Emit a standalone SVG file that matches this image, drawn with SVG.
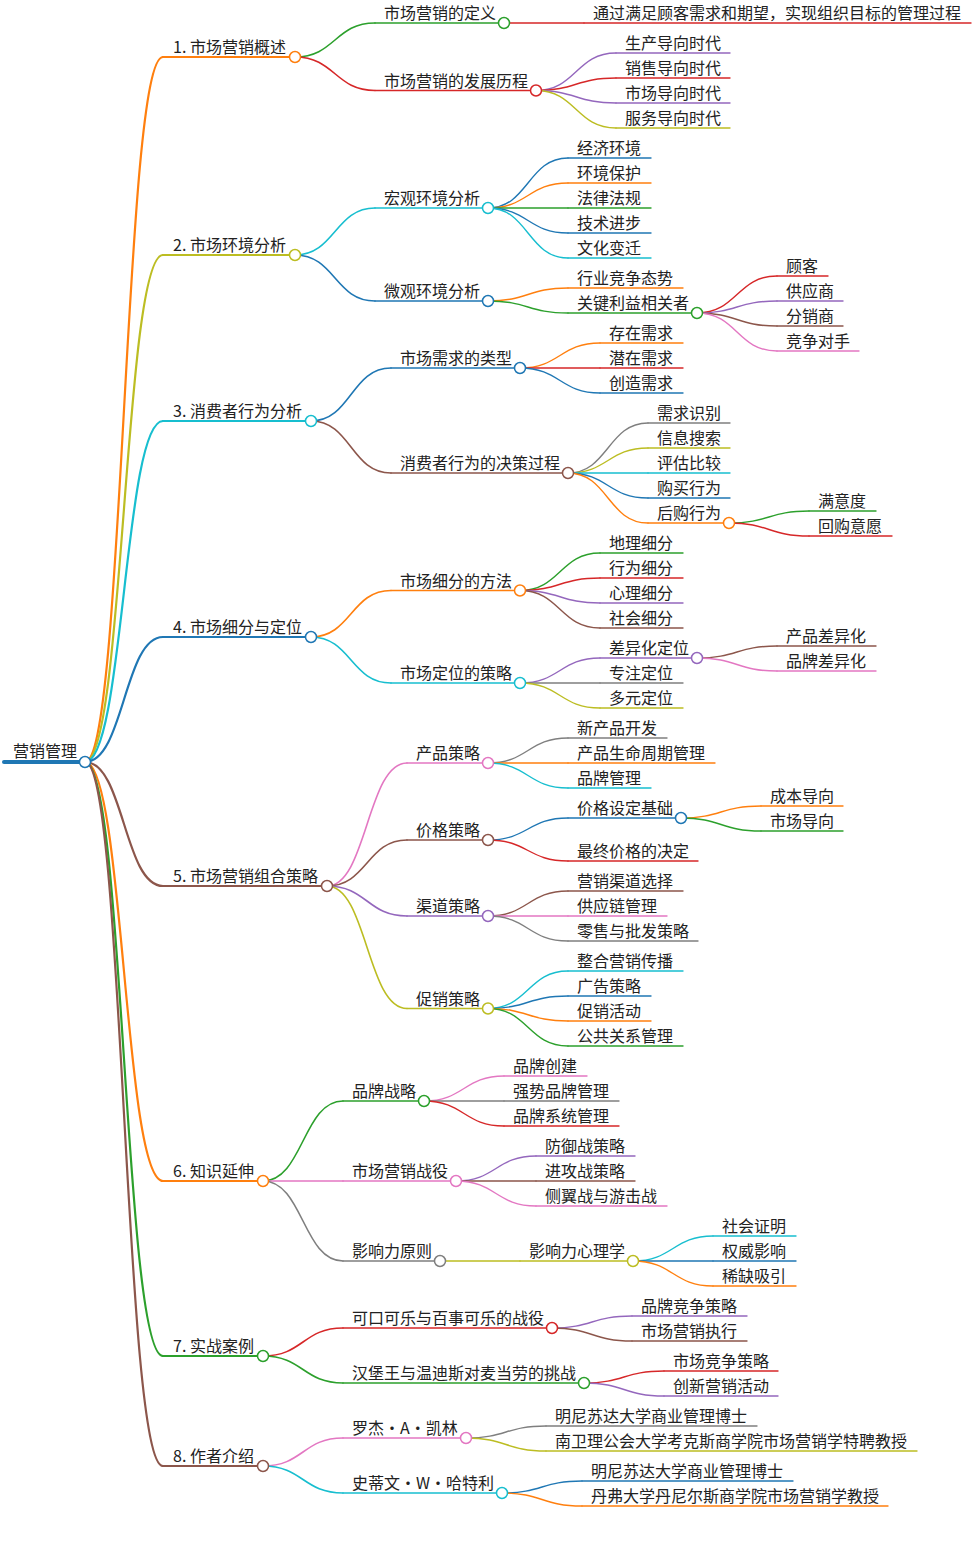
<svg xmlns="http://www.w3.org/2000/svg" width="976" height="1551" viewBox="0 0 976 1551">
<style>
.t{font-family:"Noto Sans CJK SC","Noto Sans",sans-serif;font-size:16px;fill:#222}
.l{fill:none;stroke-linecap:round}
.dot{fill:#fff;stroke-width:1.5}
.w0{stroke-width:4}.w1{stroke-width:2.2}.w2{stroke-width:1.6}.w3{stroke-width:1.4}
.b{stroke:#1f77b4}.o{stroke:#ff7f0e}.g{stroke:#2ca02c}.r{stroke:#d62728}.p{stroke:#9467bd}
.n{stroke:#8c564b}.k{stroke:#e377c2}.y{stroke:#7f7f7f}.v{stroke:#bcbd22}.c{stroke:#17becf}
</style>
<rect width="976" height="1551" fill="#fff"/>
<g id="connectors">
<path class="l o w1" d="M85 762C124 762 124 57 163 57"/>
<path class="l v w1" d="M85 762C124 762 124 255 163 255"/>
<path class="l c w1" d="M85 762C124 762 124 421 163 421"/>
<path class="l b w1" d="M85 762C124 762 124 637 163 637"/>
<path class="l n w1" d="M85 762C124 762 124 886 163 886"/>
<path class="l o w1" d="M85 762C124 762 124 1181 163 1181"/>
<path class="l g w1" d="M85 762C124 762 124 1356 163 1356"/>
<path class="l n w1" d="M85 762C124 762 124 1466 163 1466"/>
<path class="l g w2" d="M295 57C335 57 335 23 375 23"/>
<path class="l r w2" d="M295 57C335 57 335 90.5 375 90.5"/>
<path class="l r w3" d="M504 23H584"/>
<path class="l p w3" d="M536 90.5C576 90.5 576 53 616 53"/>
<path class="l r w3" d="M536 90.5C576 90.5 576 78 616 78"/>
<path class="l p w3" d="M536 90.5C576 90.5 576 103 616 103"/>
<path class="l v w3" d="M536 90.5C576 90.5 576 128 616 128"/>
<path class="l c w2" d="M295 255C335 255 335 208 375 208"/>
<path class="l b w2" d="M295 255C335 255 335 301 375 301"/>
<path class="l b w3" d="M488 208C528 208 528 158 568 158"/>
<path class="l o w3" d="M488 208C528 208 528 183 568 183"/>
<path class="l g w3" d="M488 208H568"/>
<path class="l b w3" d="M488 208C528 208 528 233 568 233"/>
<path class="l c w3" d="M488 208C528 208 528 258 568 258"/>
<path class="l o w3" d="M488 301C528 301 528 288 568 288"/>
<path class="l g w3" d="M488 301C528 301 528 313 568 313"/>
<path class="l r w3" d="M697 313C737 313 737 276 777 276"/>
<path class="l p w3" d="M697 313C737 313 737 301 777 301"/>
<path class="l n w3" d="M697 313C737 313 737 326 777 326"/>
<path class="l k w3" d="M697 313C737 313 737 351 777 351"/>
<path class="l b w2" d="M311 421C351 421 351 368 391 368"/>
<path class="l n w2" d="M311 421C351 421 351 473 391 473"/>
<path class="l o w3" d="M520 368C560 368 560 343 600 343"/>
<path class="l r w3" d="M520 368H600"/>
<path class="l b w3" d="M520 368C560 368 560 393 600 393"/>
<path class="l y w3" d="M568 473C608 473 608 423 648 423"/>
<path class="l v w3" d="M568 473C608 473 608 448 648 448"/>
<path class="l c w3" d="M568 473H648"/>
<path class="l b w3" d="M568 473C608 473 608 498 648 498"/>
<path class="l o w3" d="M568 473C608 473 608 523 648 523"/>
<path class="l g w3" d="M729 523C769 523 769 511 809 511"/>
<path class="l r w3" d="M729 523C769 523 769 536 809 536"/>
<path class="l o w2" d="M311 637C351 637 351 590.5 391 590.5"/>
<path class="l c w2" d="M311 637C351 637 351 683 391 683"/>
<path class="l g w3" d="M520 590.5C560 590.5 560 553 600 553"/>
<path class="l r w3" d="M520 590.5C560 590.5 560 578 600 578"/>
<path class="l p w3" d="M520 590.5C560 590.5 560 603 600 603"/>
<path class="l n w3" d="M520 590.5C560 590.5 560 628 600 628"/>
<path class="l p w3" d="M520 683C560 683 560 658 600 658"/>
<path class="l y w3" d="M520 683H600"/>
<path class="l v w3" d="M520 683C560 683 560 708 600 708"/>
<path class="l n w3" d="M697 658C737 658 737 646 777 646"/>
<path class="l k w3" d="M697 658C737 658 737 671 777 671"/>
<path class="l k w2" d="M327 886C367 886 367 763 407 763"/>
<path class="l n w2" d="M327 886C367 886 367 840 407 840"/>
<path class="l p w2" d="M327 886C367 886 367 916 407 916"/>
<path class="l v w2" d="M327 886C367 886 367 1008.5 407 1008.5"/>
<path class="l y w3" d="M488 763C528 763 528 738 568 738"/>
<path class="l o w3" d="M488 763H568"/>
<path class="l c w3" d="M488 763C528 763 528 788 568 788"/>
<path class="l b w3" d="M488 840C528 840 528 818 568 818"/>
<path class="l r w3" d="M488 840C528 840 528 861 568 861"/>
<path class="l o w3" d="M681 818C721 818 721 806 761 806"/>
<path class="l g w3" d="M681 818C721 818 721 831 761 831"/>
<path class="l n w3" d="M488 916C528 916 528 891 568 891"/>
<path class="l k w3" d="M488 916H568"/>
<path class="l y w3" d="M488 916C528 916 528 941 568 941"/>
<path class="l c w3" d="M488 1008.5C528 1008.5 528 971 568 971"/>
<path class="l b w3" d="M488 1008.5C528 1008.5 528 996 568 996"/>
<path class="l o w3" d="M488 1008.5C528 1008.5 528 1021 568 1021"/>
<path class="l g w3" d="M488 1008.5C528 1008.5 528 1046 568 1046"/>
<path class="l g w2" d="M263 1181C303 1181 303 1101 343 1101"/>
<path class="l k w2" d="M263 1181H343"/>
<path class="l y w2" d="M263 1181C303 1181 303 1261 343 1261"/>
<path class="l k w3" d="M424 1101C464 1101 464 1076 504 1076"/>
<path class="l y w3" d="M424 1101H504"/>
<path class="l r w3" d="M424 1101C464 1101 464 1126 504 1126"/>
<path class="l p w3" d="M456 1181C496 1181 496 1156 536 1156"/>
<path class="l n w3" d="M456 1181H536"/>
<path class="l k w3" d="M456 1181C496 1181 496 1206 536 1206"/>
<path class="l v w3" d="M440 1261H520"/>
<path class="l c w3" d="M633 1261C673 1261 673 1236 713 1236"/>
<path class="l b w3" d="M633 1261H713"/>
<path class="l o w3" d="M633 1261C673 1261 673 1286 713 1286"/>
<path class="l r w2" d="M263 1356C303 1356 303 1328 343 1328"/>
<path class="l g w2" d="M263 1356C303 1356 303 1383 343 1383"/>
<path class="l p w3" d="M552 1328C592 1328 592 1316 632 1316"/>
<path class="l n w3" d="M552 1328C592 1328 592 1341 632 1341"/>
<path class="l r w3" d="M584 1383C624 1383 624 1371 664 1371"/>
<path class="l p w3" d="M584 1383C624 1383 624 1396 664 1396"/>
<path class="l k w2" d="M263 1466C303 1466 303 1438 343 1438"/>
<path class="l c w2" d="M263 1466C303 1466 303 1493 343 1493"/>
<path class="l y w3" d="M466 1438C506 1438 506 1426 546 1426"/>
<path class="l v w3" d="M466 1438C506 1438 506 1451 546 1451"/>
<path class="l b w3" d="M502 1493C542 1493 542 1481 582 1481"/>
<path class="l o w3" d="M502 1493C542 1493 542 1506 582 1506"/>
</g>
<g id="root"><path class="l b w0" d="M4 762H85"/><text class="t" x="13" y="757">营销管理</text><circle class="dot b" cx="85" cy="762" r="5.5"/></g>
<g id="n1"><path class="l o w1" d="M163 57H295"/><text class="t" x="173" y="53">1. 市场营销概述</text><circle class="dot o" cx="295" cy="57" r="5.5"/></g>
<g id="n1-1"><path class="l g w2" d="M375 23H504"/><text class="t" x="384" y="19">市场营销的定义</text><circle class="dot g" cx="504" cy="23" r="5.5"/></g>
<g id="n1-1-1"><path class="l r w3" d="M584 23H971"/><text class="t" x="593" y="19">通过满足顾客需求和期望，实现组织目标的管理过程</text></g>
<g id="n1-2"><path class="l r w2" d="M375 90.5H536"/><text class="t" x="384" y="86.5">市场营销的发展历程</text><circle class="dot r" cx="536" cy="90.5" r="5.5"/></g>
<g id="n1-2-1"><path class="l p w3" d="M616 53H730"/><text class="t" x="625" y="49">生产导向时代</text></g>
<g id="n1-2-2"><path class="l r w3" d="M616 78H730"/><text class="t" x="625" y="74">销售导向时代</text></g>
<g id="n1-2-3"><path class="l p w3" d="M616 103H730"/><text class="t" x="625" y="99">市场导向时代</text></g>
<g id="n1-2-4"><path class="l v w3" d="M616 128H730"/><text class="t" x="625" y="124">服务导向时代</text></g>
<g id="n2"><path class="l v w1" d="M163 255H295"/><text class="t" x="173" y="251">2. 市场环境分析</text><circle class="dot v" cx="295" cy="255" r="5.5"/></g>
<g id="n2-1"><path class="l c w2" d="M375 208H488"/><text class="t" x="384" y="204">宏观环境分析</text><circle class="dot c" cx="488" cy="208" r="5.5"/></g>
<g id="n2-1-1"><path class="l b w3" d="M568 158H651"/><text class="t" x="577" y="154">经济环境</text></g>
<g id="n2-1-2"><path class="l o w3" d="M568 183H651"/><text class="t" x="577" y="179">环境保护</text></g>
<g id="n2-1-3"><path class="l g w3" d="M568 208H651"/><text class="t" x="577" y="204">法律法规</text></g>
<g id="n2-1-4"><path class="l b w3" d="M568 233H651"/><text class="t" x="577" y="229">技术进步</text></g>
<g id="n2-1-5"><path class="l c w3" d="M568 258H651"/><text class="t" x="577" y="254">文化变迁</text></g>
<g id="n2-2"><path class="l b w2" d="M375 301H488"/><text class="t" x="384" y="297">微观环境分析</text><circle class="dot b" cx="488" cy="301" r="5.5"/></g>
<g id="n2-2-1"><path class="l o w3" d="M568 288H683"/><text class="t" x="577" y="284">行业竞争态势</text></g>
<g id="n2-2-2"><path class="l g w3" d="M568 313H697"/><text class="t" x="577" y="309">关键利益相关者</text><circle class="dot g" cx="697" cy="313" r="5.5"/></g>
<g id="n2-2-2-1"><path class="l r w3" d="M777 276H828"/><text class="t" x="786" y="272">顾客</text></g>
<g id="n2-2-2-2"><path class="l p w3" d="M777 301H843"/><text class="t" x="786" y="297">供应商</text></g>
<g id="n2-2-2-3"><path class="l n w3" d="M777 326H843"/><text class="t" x="786" y="322">分销商</text></g>
<g id="n2-2-2-4"><path class="l k w3" d="M777 351H859"/><text class="t" x="786" y="347">竞争对手</text></g>
<g id="n3"><path class="l c w1" d="M163 421H311"/><text class="t" x="173" y="417">3. 消费者行为分析</text><circle class="dot c" cx="311" cy="421" r="5.5"/></g>
<g id="n3-1"><path class="l b w2" d="M391 368H520"/><text class="t" x="400" y="364">市场需求的类型</text><circle class="dot b" cx="520" cy="368" r="5.5"/></g>
<g id="n3-1-1"><path class="l o w3" d="M600 343H683"/><text class="t" x="609" y="339">存在需求</text></g>
<g id="n3-1-2"><path class="l r w3" d="M600 368H683"/><text class="t" x="609" y="364">潜在需求</text></g>
<g id="n3-1-3"><path class="l b w3" d="M600 393H683"/><text class="t" x="609" y="389">创造需求</text></g>
<g id="n3-2"><path class="l n w2" d="M391 473H568"/><text class="t" x="400" y="469">消费者行为的决策过程</text><circle class="dot n" cx="568" cy="473" r="5.5"/></g>
<g id="n3-2-1"><path class="l y w3" d="M648 423H730"/><text class="t" x="657" y="419">需求识别</text></g>
<g id="n3-2-2"><path class="l v w3" d="M648 448H730"/><text class="t" x="657" y="444">信息搜索</text></g>
<g id="n3-2-3"><path class="l c w3" d="M648 473H730"/><text class="t" x="657" y="469">评估比较</text></g>
<g id="n3-2-4"><path class="l b w3" d="M648 498H730"/><text class="t" x="657" y="494">购买行为</text></g>
<g id="n3-2-5"><path class="l o w3" d="M648 523H729"/><text class="t" x="657" y="519">后购行为</text><circle class="dot o" cx="729" cy="523" r="5.5"/></g>
<g id="n3-2-5-1"><path class="l g w3" d="M809 511H876"/><text class="t" x="818" y="507">满意度</text></g>
<g id="n3-2-5-2"><path class="l r w3" d="M809 536H892"/><text class="t" x="818" y="532">回购意愿</text></g>
<g id="n4"><path class="l b w1" d="M163 637H311"/><text class="t" x="173" y="633">4. 市场细分与定位</text><circle class="dot b" cx="311" cy="637" r="5.5"/></g>
<g id="n4-1"><path class="l o w2" d="M391 590.5H520"/><text class="t" x="400" y="586.5">市场细分的方法</text><circle class="dot o" cx="520" cy="590.5" r="5.5"/></g>
<g id="n4-1-1"><path class="l g w3" d="M600 553H683"/><text class="t" x="609" y="549">地理细分</text></g>
<g id="n4-1-2"><path class="l r w3" d="M600 578H683"/><text class="t" x="609" y="574">行为细分</text></g>
<g id="n4-1-3"><path class="l p w3" d="M600 603H683"/><text class="t" x="609" y="599">心理细分</text></g>
<g id="n4-1-4"><path class="l n w3" d="M600 628H683"/><text class="t" x="609" y="624">社会细分</text></g>
<g id="n4-2"><path class="l c w2" d="M391 683H520"/><text class="t" x="400" y="679">市场定位的策略</text><circle class="dot c" cx="520" cy="683" r="5.5"/></g>
<g id="n4-2-1"><path class="l p w3" d="M600 658H697"/><text class="t" x="609" y="654">差异化定位</text><circle class="dot p" cx="697" cy="658" r="5.5"/></g>
<g id="n4-2-1-1"><path class="l n w3" d="M777 646H876"/><text class="t" x="786" y="642">产品差异化</text></g>
<g id="n4-2-1-2"><path class="l k w3" d="M777 671H876"/><text class="t" x="786" y="667">品牌差异化</text></g>
<g id="n4-2-2"><path class="l y w3" d="M600 683H683"/><text class="t" x="609" y="679">专注定位</text></g>
<g id="n4-2-3"><path class="l v w3" d="M600 708H683"/><text class="t" x="609" y="704">多元定位</text></g>
<g id="n5"><path class="l n w1" d="M163 886H327"/><text class="t" x="173" y="882">5. 市场营销组合策略</text><circle class="dot n" cx="327" cy="886" r="5.5"/></g>
<g id="n5-1"><path class="l k w2" d="M407 763H488"/><text class="t" x="416" y="759">产品策略</text><circle class="dot k" cx="488" cy="763" r="5.5"/></g>
<g id="n5-1-1"><path class="l y w3" d="M568 738H667"/><text class="t" x="577" y="734">新产品开发</text></g>
<g id="n5-1-2"><path class="l o w3" d="M568 763H715"/><text class="t" x="577" y="759">产品生命周期管理</text></g>
<g id="n5-1-3"><path class="l c w3" d="M568 788H651"/><text class="t" x="577" y="784">品牌管理</text></g>
<g id="n5-2"><path class="l n w2" d="M407 840H488"/><text class="t" x="416" y="836">价格策略</text><circle class="dot n" cx="488" cy="840" r="5.5"/></g>
<g id="n5-2-1"><path class="l b w3" d="M568 818H681"/><text class="t" x="577" y="814">价格设定基础</text><circle class="dot b" cx="681" cy="818" r="5.5"/></g>
<g id="n5-2-1-1"><path class="l o w3" d="M761 806H843"/><text class="t" x="770" y="802">成本导向</text></g>
<g id="n5-2-1-2"><path class="l g w3" d="M761 831H843"/><text class="t" x="770" y="827">市场导向</text></g>
<g id="n5-2-2"><path class="l r w3" d="M568 861H698"/><text class="t" x="577" y="857">最终价格的决定</text></g>
<g id="n5-3"><path class="l p w2" d="M407 916H488"/><text class="t" x="416" y="912">渠道策略</text><circle class="dot p" cx="488" cy="916" r="5.5"/></g>
<g id="n5-3-1"><path class="l n w3" d="M568 891H683"/><text class="t" x="577" y="887">营销渠道选择</text></g>
<g id="n5-3-2"><path class="l k w3" d="M568 916H667"/><text class="t" x="577" y="912">供应链管理</text></g>
<g id="n5-3-3"><path class="l y w3" d="M568 941H698"/><text class="t" x="577" y="937">零售与批发策略</text></g>
<g id="n5-4"><path class="l v w2" d="M407 1008.5H488"/><text class="t" x="416" y="1004.5">促销策略</text><circle class="dot v" cx="488" cy="1008.5" r="5.5"/></g>
<g id="n5-4-1"><path class="l c w3" d="M568 971H683"/><text class="t" x="577" y="967">整合营销传播</text></g>
<g id="n5-4-2"><path class="l b w3" d="M568 996H651"/><text class="t" x="577" y="992">广告策略</text></g>
<g id="n5-4-3"><path class="l o w3" d="M568 1021H651"/><text class="t" x="577" y="1017">促销活动</text></g>
<g id="n5-4-4"><path class="l g w3" d="M568 1046H683"/><text class="t" x="577" y="1042">公共关系管理</text></g>
<g id="n6"><path class="l o w1" d="M163 1181H263"/><text class="t" x="173" y="1177">6. 知识延伸</text><circle class="dot o" cx="263" cy="1181" r="5.5"/></g>
<g id="n6-1"><path class="l g w2" d="M343 1101H424"/><text class="t" x="352" y="1097">品牌战略</text><circle class="dot g" cx="424" cy="1101" r="5.5"/></g>
<g id="n6-1-1"><path class="l k w3" d="M504 1076H587"/><text class="t" x="513" y="1072">品牌创建</text></g>
<g id="n6-1-2"><path class="l y w3" d="M504 1101H619"/><text class="t" x="513" y="1097">强势品牌管理</text></g>
<g id="n6-1-3"><path class="l r w3" d="M504 1126H619"/><text class="t" x="513" y="1122">品牌系统管理</text></g>
<g id="n6-2"><path class="l k w2" d="M343 1181H456"/><text class="t" x="352" y="1177">市场营销战役</text><circle class="dot k" cx="456" cy="1181" r="5.5"/></g>
<g id="n6-2-1"><path class="l p w3" d="M536 1156H635"/><text class="t" x="545" y="1152">防御战策略</text></g>
<g id="n6-2-2"><path class="l n w3" d="M536 1181H635"/><text class="t" x="545" y="1177">进攻战策略</text></g>
<g id="n6-2-3"><path class="l k w3" d="M536 1206H667"/><text class="t" x="545" y="1202">侧翼战与游击战</text></g>
<g id="n6-3"><path class="l y w2" d="M343 1261H440"/><text class="t" x="352" y="1257">影响力原则</text><circle class="dot y" cx="440" cy="1261" r="5.5"/></g>
<g id="n6-3-1"><path class="l v w3" d="M520 1261H633"/><text class="t" x="529" y="1257">影响力心理学</text><circle class="dot v" cx="633" cy="1261" r="5.5"/></g>
<g id="n6-3-1-1"><path class="l c w3" d="M713 1236H796"/><text class="t" x="722" y="1232">社会证明</text></g>
<g id="n6-3-1-2"><path class="l b w3" d="M713 1261H796"/><text class="t" x="722" y="1257">权威影响</text></g>
<g id="n6-3-1-3"><path class="l o w3" d="M713 1286H796"/><text class="t" x="722" y="1282">稀缺吸引</text></g>
<g id="n7"><path class="l g w1" d="M163 1356H263"/><text class="t" x="173" y="1352">7. 实战案例</text><circle class="dot g" cx="263" cy="1356" r="5.5"/></g>
<g id="n7-1"><path class="l r w2" d="M343 1328H552"/><text class="t" x="352" y="1324">可口可乐与百事可乐的战役</text><circle class="dot r" cx="552" cy="1328" r="5.5"/></g>
<g id="n7-1-1"><path class="l p w3" d="M632 1316H747"/><text class="t" x="641" y="1312">品牌竞争策略</text></g>
<g id="n7-1-2"><path class="l n w3" d="M632 1341H747"/><text class="t" x="641" y="1337">市场营销执行</text></g>
<g id="n7-2"><path class="l g w2" d="M343 1383H584"/><text class="t" x="352" y="1379">汉堡王与温迪斯对麦当劳的挑战</text><circle class="dot g" cx="584" cy="1383" r="5.5"/></g>
<g id="n7-2-1"><path class="l r w3" d="M664 1371H778"/><text class="t" x="673" y="1367">市场竞争策略</text></g>
<g id="n7-2-2"><path class="l p w3" d="M664 1396H778"/><text class="t" x="673" y="1392">创新营销活动</text></g>
<g id="n8"><path class="l n w1" d="M163 1466H263"/><text class="t" x="173" y="1462">8. 作者介绍</text><circle class="dot n" cx="263" cy="1466" r="5.5"/></g>
<g id="n8-1"><path class="l k w2" d="M343 1438H466"/><text class="t" x="352" y="1434">罗杰・A・凯林</text><circle class="dot k" cx="466" cy="1438" r="5.5"/></g>
<g id="n8-1-1"><path class="l y w3" d="M546 1426H757"/><text class="t" x="555" y="1422">明尼苏达大学商业管理博士</text></g>
<g id="n8-1-2"><path class="l v w3" d="M546 1451H917"/><text class="t" x="555" y="1447">南卫理公会大学考克斯商学院市场营销学特聘教授</text></g>
<g id="n8-2"><path class="l c w2" d="M343 1493H502"/><text class="t" x="352" y="1489">史蒂文・W・哈特利</text><circle class="dot c" cx="502" cy="1493" r="5.5"/></g>
<g id="n8-2-1"><path class="l b w3" d="M582 1481H793"/><text class="t" x="591" y="1477">明尼苏达大学商业管理博士</text></g>
<g id="n8-2-2"><path class="l o w3" d="M582 1506H888"/><text class="t" x="591" y="1502">丹弗大学丹尼尔斯商学院市场营销学教授</text></g>
</svg>
